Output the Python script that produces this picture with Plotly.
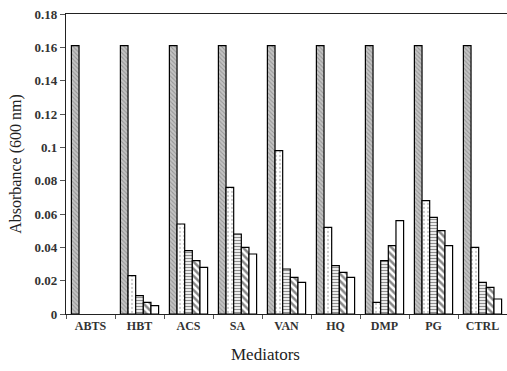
import plotly.graph_objects as go

mediators = ["ABTS", "HBT", "ACS", "SA", "VAN", "HQ", "DMP", "PG", "CTRL"]

series_1 = [0.161, 0.161, 0.161, 0.161, 0.161, 0.161, 0.161, 0.161, 0.161]
series_2 = [None, 0.023, 0.054, 0.076, 0.098, 0.052, 0.007, 0.068, 0.040]
series_3 = [None, 0.011, 0.038, 0.048, 0.027, 0.029, 0.032, 0.058, 0.019]
series_4 = [None, 0.007, 0.032, 0.040, 0.022, 0.025, 0.041, 0.050, 0.016]
series_5 = [None, 0.005, 0.028, 0.036, 0.019, 0.022, 0.056, 0.041, 0.009]

y_ticks = [0, 0.02, 0.04, 0.06, 0.08, 0.1, 0.12, 0.14, 0.16, 0.18]
y_tick_labels = ["0", "0.02", "0.04", "0.06", "0.08", "0.1", "0.12", "0.14", "0.16", "0.18"]

styles = [
    dict(color="#c4c4c4", pattern=dict(shape="\\", fgcolor="#6a6a6a", bgcolor="#c4c4c4", size=3, solidity=0.35)),
    dict(color="white", pattern=dict(shape=".", fgcolor="#9a9a9a", bgcolor="white", size=4, solidity=0.25)),
    dict(color="white", pattern=dict(shape="-", fgcolor="#222", bgcolor="white", size=3, solidity=0.45)),
    dict(color="white", pattern=dict(shape="\\", fgcolor="#111", bgcolor="white", size=5, solidity=0.5)),
    dict(color="white"),
]

fig = go.Figure()
for i, vals in enumerate([series_1, series_2, series_3, series_4, series_5]):
    fig.add_trace(go.Bar(
        x=mediators, y=vals, name=f"Series {i+1}",
        marker=dict(**styles[i], line=dict(color="black", width=1.2)),
        showlegend=False,
    ))

font_family = "Liberation Serif, DejaVu Serif, serif"
fig.update_layout(
    width=507, height=371,
    margin=dict(l=66, r=0, t=14, b=57),
    barmode="group", bargap=0.22, bargroupgap=0,
    plot_bgcolor="white", paper_bgcolor="white",
    font=dict(family=font_family, color="#222"),
    annotations=[dict(
        text="Mediators", xref="paper", yref="paper", x=0.4535, y=0,
        yshift=-29, yanchor="top", showarrow=False,
        font=dict(size=17, family=font_family, color="#222"),
    )],
)
fig.update_xaxes(
    showline=True, linecolor="#222", linewidth=1.2, mirror=True,
    ticks="outside", tickson="boundaries", ticklen=4, tickcolor="#555",
    tickfont=dict(size=12, family=font_family, weight="bold", color="#333"),
    showgrid=False,
)
fig.update_yaxes(
    range=[0, 0.18], tickvals=y_ticks, ticktext=y_tick_labels,
    showline=True, linecolor="#222", linewidth=1.2,
    ticks="outside", ticklen=5, tickcolor="#555",
    tickfont=dict(size=13, family=font_family, weight="bold", color="#333"),
    title=dict(text="Absorbance (600 nm)", font=dict(size=16, family=font_family), standoff=8),
    showgrid=False, zeroline=False,
)
fig.write_html("out.html", config={"displayModeBar": False},
               post_script="document.body.style.margin='0';")
